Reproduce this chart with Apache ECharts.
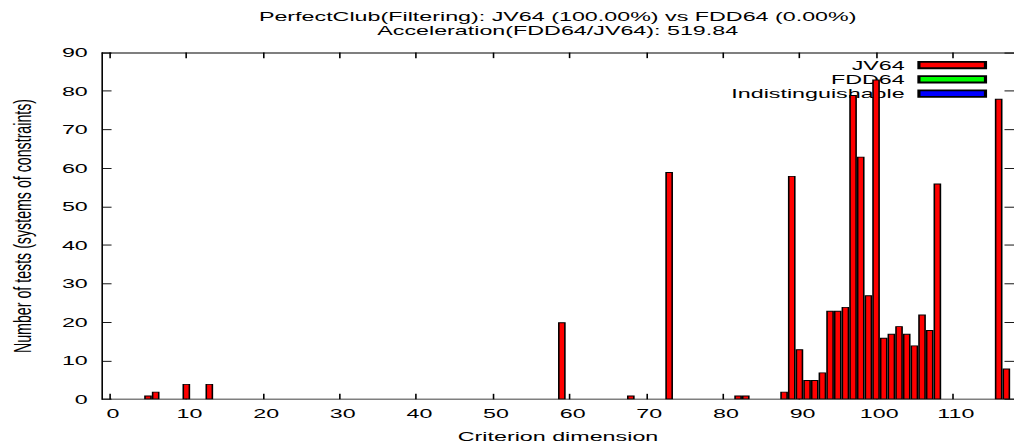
<!DOCTYPE html>
<html>
<head>
<meta charset="utf-8">
<script src="https://cdn.jsdelivr.net/npm/echarts@6/dist/echarts.min.js"></script>
<style>
  html, body { margin: 0; padding: 0; width: 1014px; height: 443px; overflow: hidden; background: #fff; }
  /* the plot is laid out on a 640x480 page and stretched to the window */
  #chart { width: 640px; height: 480px; transform-origin: 0 0; transform: scale(1.584375, 0.922917); }
</style>
</head>
<body>
<div id="chart"></div>
<script>
// criterion dimension of each non-empty bin, and the number of tests in it
const dimensions = [5, 6, 10, 13, 59, 68, 73, 82, 83,
  88, 89, 90, 91, 92, 93, 94, 95, 96, 97, 98, 99, 100,
  101, 102, 103, 104, 105, 106, 107, 108, 116, 117];
const jv64Counts = [1, 2, 4, 4, 20, 1, 59, 1, 1,
  2, 58, 13, 5, 5, 7, 23, 23, 24, 79, 63, 27, 83,
  16, 17, 19, 17, 14, 22, 18, 56, 78, 8];
const fdd64Counts = [];
const indistinguishableCounts = [];
const seriesNames = ['JV64', 'FDD64', 'Indistinguishable'];
const xTicks = [0, 10, 20, 30, 40, 50, 60, 70, 80, 90, 100, 110];
const xRange = [-1, 118];
const yTicks = [0, 10, 20, 30, 40, 50, 60, 70, 80, 90];
const titleLines = ['PerfectClub(Filtering): JV64 (100.00%) vs FDD64 (0.00%)', 'Acceleration(FDD64/JV64): 519.84'];

const FONT = 'Liberation Sans';
const FS = 14.7;
const colors = ['#ff0000', '#00ff00', '#0000ff'];
const counts = [jv64Counts, fdd64Counts, indistinguishableCounts];

const chart = echarts.init(document.getElementById('chart'), null, { renderer: 'svg' });

const tickStyle = { show: true, inside: true, length: 6, lineStyle: { color: '#000', width: 1 } };
const lineStyle = { show: true, onZero: false, lineStyle: { color: '#000', width: 1 } };

function xAxis(pos, labels) {
  return {
    type: 'value', position: pos, min: xRange[0], max: xRange[1],
    axisLine: lineStyle,
    axisTick: Object.assign({ customValues: xTicks }, tickStyle),
    axisLabel: { show: labels, customValues: xTicks, margin: 8, padding: [0, 0, 0, 4],
      color: '#000', fontFamily: FONT, fontSize: FS },
    splitLine: { show: false }
  };
}
function yAxis(pos, labels) {
  return {
    type: 'value', position: pos, min: yTicks[0], max: yTicks[yTicks.length - 1], interval: 10,
    axisLine: lineStyle,
    axisTick: tickStyle,
    axisLabel: { show: labels, margin: 9, color: '#000', fontFamily: FONT, fontSize: FS },
    splitLine: { show: false }
  };
}

const legendTops = [63, 78.4, 94];
const legends = seriesNames.map((name, i) => ({
  data: [name], right: 17, top: legendTops[i], orient: 'vertical', align: 'right',
  padding: 0, itemWidth: 42, itemHeight: 7, icon: 'rect', selectedMode: false, z: 1,
  textStyle: { fontFamily: FONT, fontSize: FS, color: '#000', lineHeight: 15, padding: [0, 4, 0, 0] }
}));

const xA = xAxis('bottom', true);
xA.name = 'Criterion dimension';
xA.nameLocation = 'middle';
xA.nameGap = 33;
xA.nameTextStyle = { fontFamily: FONT, fontSize: FS, color: '#000' };

const yA = yAxis('left', true);
yA.name = 'Number of tests (systems of constraints)';
yA.nameLocation = 'middle';
yA.nameGap = 43;
yA.nameTextStyle = { fontFamily: FONT, fontSize: 15.4, color: '#000' };

const xTop = xAxis('top', false);
const yRight = yAxis('right', false);

chart.setOption({
  animation: false,
  backgroundColor: '#fff',
  title: {
    text: titleLines.join('\n'), left: 352, top: 10, textAlign: 'center', padding: 0,
    textStyle: { fontFamily: FONT, fontSize: FS, fontWeight: 'normal', color: '#000', lineHeight: 15 }
  },
  legend: legends,
  grid: { left: 64.4, right: 0, top: 57, bottom: 47.3, containLabel: false, outerBoundsMode: 'none' },
  xAxis: [xA, xTop],
  yAxis: [yA, yRight],
  series: seriesNames.map((name, i) => ({
    name, type: 'bar', xAxisIndex: 0, yAxisIndex: 0,
    barWidth: '100%', barGap: '-100%',
    itemStyle: { color: colors[i], borderColor: '#000', borderWidth: 1 },
    emphasis: { disabled: true },
    data: counts[i].length ? dimensions.map((d, k) => [d, counts[i][k]]) : []
  }))
});
</script>
</body>
</html>
